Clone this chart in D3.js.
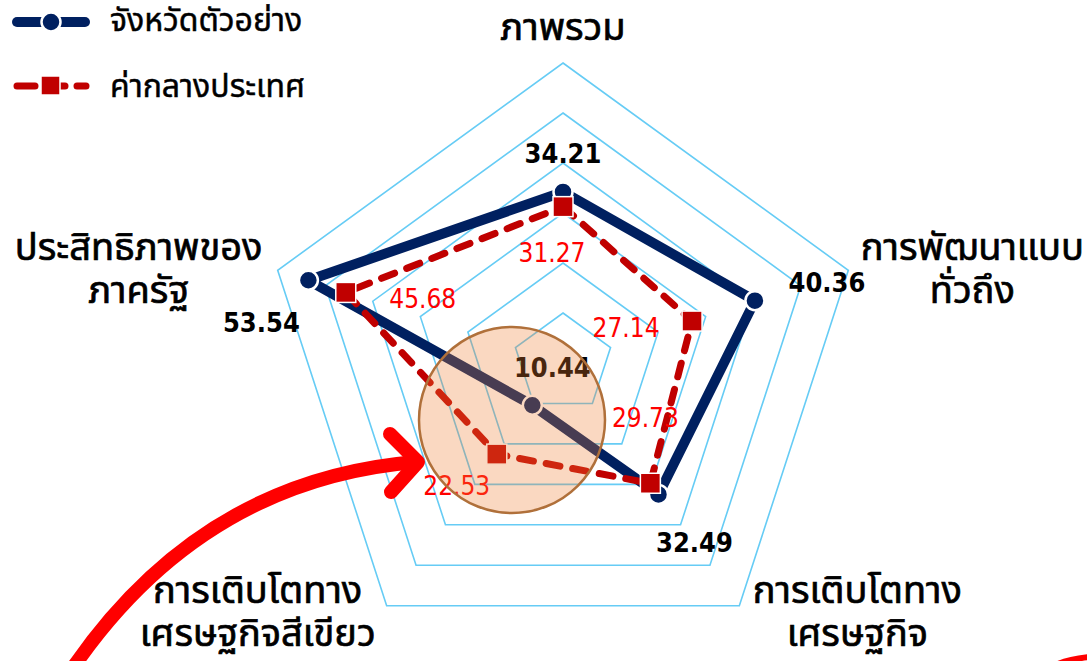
<!DOCTYPE html>
<html>
<head>
<meta charset="utf-8">
<script src="https://cdn.jsdelivr.net/npm/d3@7"></script>
<style>
  body { margin: 0; background: #fff; }
  svg { display: block; }
  .axislabel { font-family: Tahoma, "Noto Sans Thai", "Noto Sans", sans-serif; font-size: 38px; fill: #000; stroke: #000; stroke-width: 0.7px; }
  .legendtext { font-family: Tahoma, "Noto Sans Thai", "Noto Sans", sans-serif; font-size: 32px; fill: #000; stroke: #000; stroke-width: 0.5px; }
</style>
</head>
<body>
<script>
// data
var axes = [
  ["ภาพรวม"],
  ["การพัฒนาแบบ", "ทั่วถึง"],
  ["การเติบโตทาง", "เศรษฐกิจ"],
  ["การเติบโตทาง", "เศรษฐกิจสีเขียว"],
  ["ประสิทธิภาพของ", "ภาครัฐ"]
]
var provinceValues = [34.21, 40.36, 32.49, 10.44, 53.54]
var nationalValues = [31.27, 27.14, 29.73, 22.53, 45.68]
var seriesNames = ["จังหวัดตัวอย่าง", "ค่ากลางประเทศ"]
var gridLevels = [10, 20, 30, 40, 50, 60]

// layout
var width = 1087, height = 661
var cx = 563, cy = 363

var r = d3.scaleLinear().domain([0, 60]).range([0, 300])

function pt(i, v) {
  var a = i * 2 * Math.PI / axes.length
  return [cx + r(v) * Math.sin(a), cy - r(v) * Math.cos(a)]
}

var svg = d3.select("body").append("svg")
    .attr("width", width)
    .attr("height", height)

// grid pentagons
svg.append("g").selectAll("path")
    .data(gridLevels)
    .enter().append("path")
    .attr("d", function(l) {
      return d3.line()(axes.map(function(d, i) { return pt(i, l) })) + "Z"
    })
    .attr("fill", "none")
    .attr("stroke", "#66ccf5")
    .attr("stroke-width", 1.6)

// axis names
var nameOffsets = [[0, -23], [124, -10], [118, -3], [-129, -3], [-139, -10]]
axes.forEach(function(lines, i) {
  var p = pt(i, 60)
  var t = svg.append("text")
      .attr("class", "axislabel")
      .attr("text-anchor", "middle")
  lines.forEach(function(s, j) {
    t.append("tspan")
      .attr("x", p[0] + nameOffsets[i][0])
      .attr("y", p[1] + nameOffsets[i][1] + j * 43)
      .text(s)
  })
})

var line = d3.line().curve(d3.curveLinearClosed)

// province series
svg.append("path")
    .datum(provinceValues.map(function(v, i) { return pt(i, v) }))
    .attr("d", line)
    .attr("fill", "none")
    .attr("stroke", "#002060")
    .attr("stroke-width", 10)
    .attr("stroke-linejoin", "round")

svg.append("g").selectAll("circle")
    .data(provinceValues)
    .enter().append("circle")
    .attr("cx", function(d, i) { return pt(i, d)[0] })
    .attr("cy", function(d, i) { return pt(i, d)[1] })
    .attr("r", 9.5)
    .attr("fill", "#002060")
    .attr("stroke", "#fff")
    .attr("stroke-width", 2.5)

// national series
svg.append("path")
    .datum(nationalValues.map(function(v, i) { return pt(i, v) }))
    .attr("d", line)
    .attr("fill", "none")
    .attr("stroke", "#c00000")
    .attr("stroke-width", 7)
    .attr("stroke-dasharray", "14,13")
    .attr("stroke-linecap", "round")

svg.append("g").selectAll("rect")
    .data(nationalValues)
    .enter().append("rect")
    .attr("x", function(d, i) { return pt(i, d)[0] - 10 })
    .attr("y", function(d, i) { return pt(i, d)[1] - 10 })
    .attr("width", 20)
    .attr("height", 20)
    .attr("fill", "#c00000")
    .attr("stroke", "#fff")
    .attr("stroke-width", 1.5)

// value labels
var provOffsets = [[0, -29], [72, -9], [36, 58], [20, -28], [-47, 52]]
var natOffsets = [[-11, 55], [-66, 16], [-5, -56], [-40, 41], [77, 16]]

svg.append("g").selectAll("text")
    .data(provinceValues)
    .enter().append("text")
    .attr("x", function(d, i) { return pt(i, d)[0] + provOffsets[i][0] })
    .attr("y", function(d, i) { return pt(i, d)[1] + provOffsets[i][1] })
    .attr("text-anchor", "middle")
    .style("font-family", "'DejaVu Sans Condensed', 'DejaVu Sans', sans-serif")
    .style("font-weight", "bold")
    .style("font-size", "27px")
    .text(function(d) { return d.toFixed(2) })

svg.append("g").selectAll("text")
    .data(nationalValues)
    .enter().append("text")
    .attr("x", function(d, i) { return pt(i, d)[0] + natOffsets[i][0] })
    .attr("y", function(d, i) { return pt(i, d)[1] + natOffsets[i][1] })
    .attr("text-anchor", "middle")
    .style("font-family", "'DejaVu Sans Condensed', 'DejaVu Sans', sans-serif")
    .style("font-size", "26px")
    .attr("fill", "#ff0000")
    .text(function(d) { return d.toFixed(2) })

// highlight circle
svg.append("circle")
    .attr("cx", 512)
    .attr("cy", 420)
    .attr("r", 93)
    .attr("fill", "#ed7d31")
    .attr("fill-opacity", 0.3)
    .attr("stroke", "#b0703a")
    .attr("stroke-width", 2.5)

// arrow
svg.append("path")
    .attr("d", "M70,672 Q200,480 416,462")
    .attr("fill", "none")
    .attr("stroke", "#ff0000")
    .attr("stroke-width", 14)
svg.append("path")
    .attr("d", "M390,434 L418,462 L391,492")
    .attr("fill", "none")
    .attr("stroke", "#ff0000")
    .attr("stroke-width", 14)
    .attr("stroke-linecap", "round")
    .attr("stroke-linejoin", "round")
svg.append("path")
    .attr("d", "M1058,664 Q1070,659 1090,657")
    .attr("fill", "none")
    .attr("stroke", "#ff0000")
    .attr("stroke-width", 6)

// legend
var lg = svg.append("g")
lg.append("line")
    .attr("x1", 17).attr("x2", 85).attr("y1", 22).attr("y2", 22)
    .attr("stroke", "#002060").attr("stroke-width", 10).attr("stroke-linecap", "round")
lg.append("circle")
    .attr("cx", 51).attr("cy", 22).attr("r", 9.5)
    .attr("fill", "#002060").attr("stroke", "#fff").attr("stroke-width", 2.5)
lg.append("line")
    .attr("x1", 17).attr("x2", 86).attr("y1", 86).attr("y2", 86)
    .attr("stroke", "#c00000").attr("stroke-width", 7)
    .attr("stroke-dasharray", "18,12").attr("stroke-linecap", "round")
lg.append("rect")
    .attr("x", 41).attr("y", 76).attr("width", 19).attr("height", 19)
    .attr("fill", "#c00000").attr("stroke", "#fff").attr("stroke-width", 1.5)

lg.selectAll("text")
    .data(seriesNames)
    .enter().append("text")
    .attr("class", "legendtext")
    .attr("x", 110)
    .attr("y", function(d, i) { return 31 + i * 66 })
    .text(function(d) { return d })
</script>
</body>
</html>
